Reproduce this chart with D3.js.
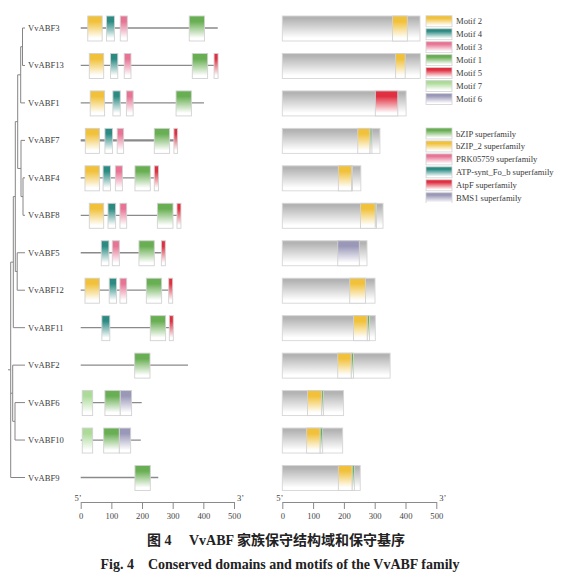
<!DOCTYPE html>
<html>
<head>
<meta charset="utf-8">
<script src="https://cdn.jsdelivr.net/npm/d3@7"></script>
<style>
body { margin: 0; background: #fff; }
svg text { font-family: "Liberation Serif", "Noto Sans CJK SC", serif; }
</style>
</head>
<body>
<div id="chart"></div>
<script>
var genes = ["VvABF3", "VvABF13", "VvABF1", "VvABF7", "VvABF4", "VvABF8", "VvABF5",
	"VvABF12", "VvABF11", "VvABF2", "VvABF6", "VvABF10", "VvABF9"];
var proteinLength = [447, 448, 402, 317, 255, 327, 275, 301, 302, 350, 199, 196, 253];

var motifNames = ["Motif 2", "Motif 4", "Motif 3", "Motif 1", "Motif 5", "Motif 7", "Motif 6"];
var motifColors = ["#f1c13a", "#2b8b83", "#e87394", "#68ae52", "#e02f40", "#acdb98", "#9a98b8"];

var domainNames = ["bZIP superfamily", "bZIP_2 superfamily", "PRK05759 superfamily",
	"ATP-synt_Fo_b superfamily", "AtpF superfamily", "BMS1 superfamily"];
var domainColors = ["#68ae52", "#f1c13a", "#e87394", "#2b8b83", "#e02f40", "#9a98b8"];

// motif hits per gene: [motif index, start, end]
var motifHits = [
	[[0, 23, 70], [1, 84, 110], [2, 129, 152], [3, 354, 404]],
	[[0, 28, 75], [1, 97, 121], [2, 142, 164], [3, 364, 414], [4, 435, 448]],
	[[0, 31, 78], [1, 105, 129], [2, 149, 171], [3, 311, 361]],
	[[0, 15, 61], [1, 79, 104], [2, 119, 140], [3, 240, 290], [4, 304, 316]],
	[[0, 14, 61], [1, 73, 97], [2, 113, 136], [3, 177, 227], [4, 240, 254]],
	[[0, 28, 75], [1, 89, 114], [2, 128, 150], [3, 250, 301], [4, 314, 327]],
	[[1, 67, 92], [2, 103, 126], [3, 190, 240], [4, 263, 276]],
	[[0, 14, 61], [1, 93, 117], [2, 128, 150], [3, 214, 264], [4, 287, 300]],
	[[1, 69, 95], [3, 227, 277], [4, 289, 302]],
	[[3, 176, 226]],
	[[5, 5, 39], [3, 79, 129], [6, 129, 166]],
	[[5, 5, 39], [3, 75, 126], [6, 126, 163]],
	[[3, 177, 227]]
];

// domain hits per gene: [domain index, start, end]
var domainHits = [
	[[1, 358, 406]],
	[[1, 368, 399]],
	[[4, 302, 375]],
	[[1, 245, 285], [0, 285, 291]],
	[[1, 182, 225], [0, 225, 228]],
	[[1, 254, 302], [0, 302, 306]],
	[[5, 180, 250]],
	[[1, 219, 270]],
	[[1, 231, 276], [0, 276, 283]],
	[[1, 180, 224], [0, 224, 231]],
	[[1, 82, 128], [0, 128, 134]],
	[[1, 79, 123], [0, 123, 131]],
	[[1, 182, 227], [0, 227, 234]]
];

var axisTicks = [0, 100, 200, 300, 400, 500];

// unrooted tree (three-way split at the base), branch lengths
var tree = {len: 0, children: [
	{len: 0.026, children: [
		{len: 0.020, children: [
			{len: 0.024, children: [
				{len: 0.030, children: [
					{len: 0.018, children: [
						{name: "VvABF3", len: 0.025},
						{name: "VvABF13", len: 0.025}
					]},
					{name: "VvABF1", len: 0.043}
				]},
				{len: 0.033, children: [
					{name: "VvABF7", len: 0.040},
					{len: 0.020, children: [
						{name: "VvABF4", len: 0.020},
						{name: "VvABF8", len: 0.020}
					]}
				]}
			]},
			{len: 0.019, children: [
				{name: "VvABF5", len: 0.078},
				{name: "VvABF12", len: 0.078}
			]}
		]},
		{name: "VvABF11", len: 0.117}
	]},
	{len: 0.020, children: [
		{name: "VvABF2", len: 0.123},
		{len: 0.023, children: [
			{name: "VvABF6", len: 0.100},
			{name: "VvABF10", len: 0.100}
		]}
	]},
	{name: "VvABF9", len: 0.143}
]};

var width = 564, height = 580;
var boxTop = 12, boxH = 25;

var svg = d3.select("#chart").append("svg")
	.attr("width", width)
	.attr("height", height);
svg.append("rect").attr("width", width).attr("height", height).attr("fill", "#fff");

var defs = svg.append("defs");

function addGradient(id, color, top) {
	var g = defs.append("linearGradient")
		.attr("id", id)
		.attr("x1", 0).attr("y1", 0).attr("x2", 0).attr("y2", 1);
	g.append("stop").attr("offset", "0%").attr("stop-color", color);
	g.append("stop").attr("offset", top).attr("stop-color", color);
	g.append("stop").attr("offset", "88%").attr("stop-color", "#fff");
	g.append("stop").attr("offset", "100%").attr("stop-color", "#fff");
}
motifColors.forEach(function(c, i) { addGradient("mg" + i, c, "22%"); });
domainColors.forEach(function(c, i) { addGradient("dg" + i, c, "22%"); });
addGradient("grayg", "#b3b3b3", "10%");

var y = d3.scalePoint().domain(genes).range([28, 477.5]);

// ---- tree ----
var root = d3.hierarchy(tree);
root.eachBefore(function(d) { d.dist = d.parent ? d.parent.dist + d.data.len : 0; });
var xt = d3.scaleLinear()
	.domain([0, d3.max(root.leaves(), function(d) { return d.dist; })])
	.range([10.7, 25]);
root.eachAfter(function(d) {
	if (!d.children) d.yy = y(d.data.name);
	else d.yy = (d.children[0].yy + d.children[d.children.length - 1].yy) / 2;
});

var treeG = svg.append("g").attr("stroke", "#858585").attr("stroke-width", 1).attr("fill", "none");
root.descendants().forEach(function(d) {
	if (d.children) {
		treeG.append("line")
			.attr("x1", xt(d.dist)).attr("x2", xt(d.dist))
			.attr("y1", d.children[0].yy).attr("y2", d.children[d.children.length - 1].yy);
	}
	if (d.parent) {
		treeG.append("line")
			.attr("x1", xt(d.parent.dist)).attr("x2", xt(d.dist))
			.attr("y1", d.yy).attr("y2", d.yy);
	} else {
		treeG.append("line")
			.attr("x1", xt(0) - 2.7).attr("x2", xt(0))
			.attr("y1", d.yy).attr("y2", d.yy);
	}
});

svg.append("g").selectAll("text")
	.data(genes)
	.enter().append("text")
	.attr("x", 28)
	.attr("y", function(d) { return y(d); })
	.attr("dy", "0.35em")
	.style("font-size", "8.6px")
	.style("fill", "#3a3a3a")
	.text(function(d) { return d; });

// ---- motif panel ----
var xm = d3.scaleLinear().domain([0, 500]).range([80.7, 234]);
var motifG = svg.append("g");
genes.forEach(function(g, i) {
	motifG.append("line")
		.attr("x1", xm(0)).attr("x2", xm(proteinLength[i]))
		.attr("y1", y(g)).attr("y2", y(g))
		.attr("stroke", "#8a8a8a")
		.attr("stroke-width", g == "VvABF7" ? 2.4 : 1.3);
	motifG.selectAll(null)
		.data(motifHits[i])
		.enter().append("rect")
		.attr("x", function(d) { return xm(d[1]); })
		.attr("width", function(d) { return xm(d[2]) - xm(d[1]); })
		.attr("y", y(g) - boxTop)
		.attr("height", boxH)
		.attr("fill", function(d) { return "url(#mg" + d[0] + ")"; })
		.attr("stroke", "#d2d2d2")
		.attr("stroke-width", 0.9);
});

// ---- domain panel ----
var xd = d3.scaleLinear().domain([0, 500]).range([282.3, 436.3]);
var domainG = svg.append("g");
genes.forEach(function(g, i) {
	domainG.append("rect")
		.attr("x", xd(0))
		.attr("width", xd(proteinLength[i]) - xd(0))
		.attr("y", y(g) - boxTop)
		.attr("height", boxH)
		.attr("fill", "url(#grayg)")
		.attr("stroke", "#d6d6d6")
		.attr("stroke-width", 0.9);
	domainG.selectAll(null)
		.data(domainHits[i])
		.enter().append("rect")
		.attr("x", function(d) { return xd(d[1]); })
		.attr("width", function(d) { return xd(d[2]) - xd(d[1]); })
		.attr("y", y(g) - boxTop)
		.attr("height", boxH)
		.attr("fill", function(d) { return "url(#dg" + d[0] + ")"; })
		.attr("stroke", "#d2d2d2")
		.attr("stroke-width", 0.9);
});

// ---- axes ----
var axisY = 502;
function drawAxis(scale) {
	var ax = svg.append("g")
		.attr("transform", "translate(0," + axisY + ")")
		.call(d3.axisBottom(scale).tickValues(axisTicks).tickSize(7).tickSizeOuter(0).tickPadding(4));
	ax.select(".domain").attr("stroke", "#8a8a8a");
	ax.selectAll(".tick line").attr("stroke", "#8a8a8a");
	ax.selectAll("text")
		.style("font-family", "Liberation Serif, serif")
		.style("font-size", "8.6px")
		.style("fill", "#444");
	svg.append("text")
		.attr("x", scale(0) + 1).attr("y", axisY - 1)
		.attr("text-anchor", "end")
		.style("font-size", "8.6px").style("fill", "#444")
		.text("5\u2019");
	svg.append("text")
		.attr("x", scale(500) + 3).attr("y", axisY - 1)
		.style("font-size", "8.6px").style("fill", "#444")
		.text("3\u2019");
}
drawAxis(xm);
drawAxis(xd);

// ---- legends ----
defs.append("clipPath").attr("id", "legclip")
	.append("rect").attr("x", 420).attr("y", 0).attr("width", 144).attr("height", 203);
var legend = svg.append("g").attr("clip-path", "url(#legclip)");

function drawLegend(names, gradPrefix, startY) {
	var rows = legend.selectAll(null)
		.data(names)
		.enter().append("g")
		.attr("transform", function(d, i) { return "translate(426," + (startY + i * 12.95) + ")"; });
	rows.append("rect")
		.attr("x", 0).attr("y", -5.5)
		.attr("width", 26).attr("height", 11)
		.attr("fill", function(d, i) { return "url(#" + gradPrefix + i + ")"; })
		.attr("stroke", "#d2d2d2")
		.attr("stroke-width", 0.8);
	rows.append("text")
		.attr("x", 30)
		.attr("dy", "0.35em")
		.style("font-size", "8.6px")
		.style("fill", "#3a3a3a")
		.text(function(d) { return d; });
}
drawLegend(motifNames, "mg", 21.3);
drawLegend(domainNames, "dg", 133.5);

// ---- captions ----
svg.append("text")
	.attr("x", 276).attr("y", 545)
	.attr("text-anchor", "middle")
	.attr("xml:space", "preserve")
	.style("font-size", "14px")
	.style("font-weight", "bold")
	.style("fill", "#222")
	.text("图 4\u3000 VvABF 家族保守结构域和保守基序");
svg.append("text")
	.attr("x", 280).attr("y", 569)
	.attr("text-anchor", "middle")
	.attr("xml:space", "preserve")
	.style("font-size", "14px")
	.style("font-weight", "bold")
	.style("fill", "#222")
	.text("Fig. 4    Conserved domains and motifs of the VvABF family");
</script>
</body>
</html>
